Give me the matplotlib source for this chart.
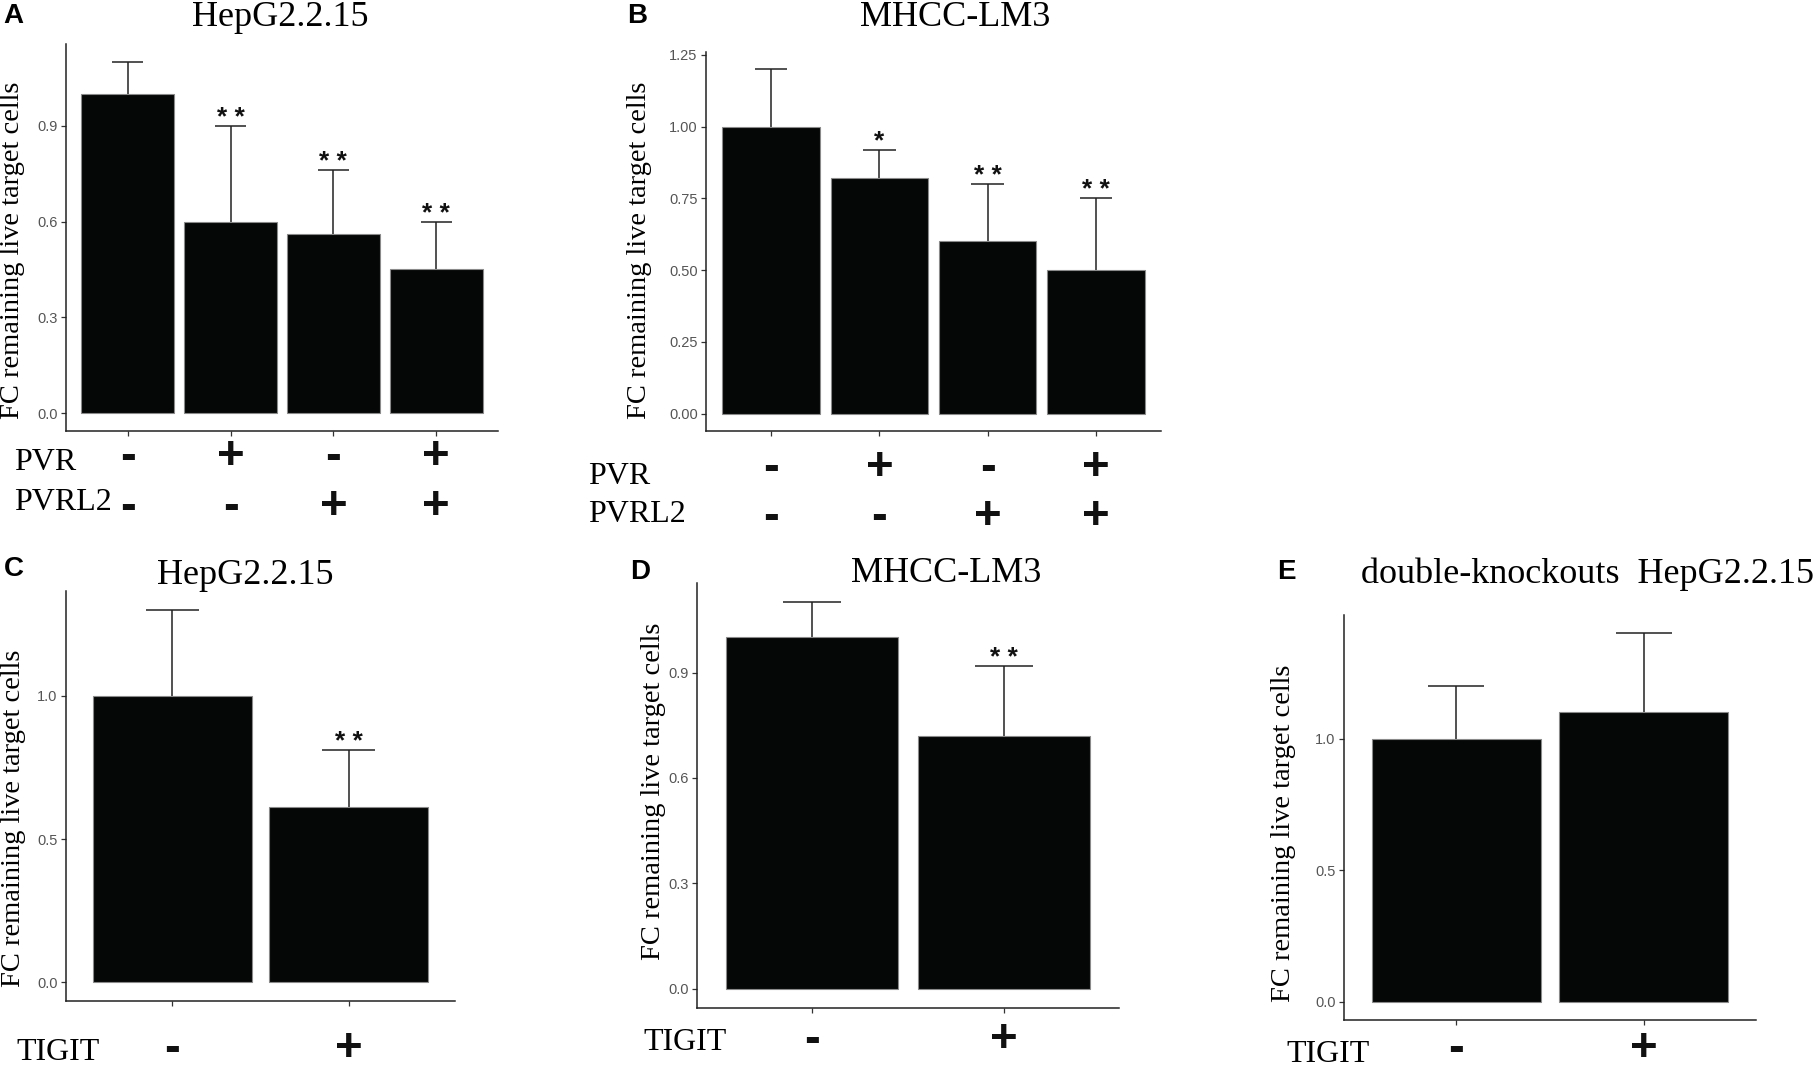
import numpy as np
import matplotlib.pyplot as plt
from matplotlib.ticker import FormatStrFormatter
from matplotlib.transforms import blended_transform_factory

plt.rcParams['font.family'] = ['Liberation Sans', 'DejaVu Sans']

# Panel A: HepG2.2.15, PVR / PVRL2 knockouts
a_vals = [1.00, 0.60, 0.56, 0.45]
a_err = [0.10, 0.30, 0.20, 0.15]
a_sig = ['', '* *', '* *', '* *']
a_yticks = [0.0, 0.3, 0.6, 0.9]

# Panel B: MHCC-LM3, PVR / PVRL2 knockouts
b_vals = [1.00, 0.82, 0.60, 0.50]
b_err = [0.20, 0.10, 0.20, 0.25]
b_sig = ['', '*', '* *', '* *']
b_yticks = [0.00, 0.25, 0.50, 0.75, 1.00, 1.25]

pvr = ['-', '+', '-', '+']
pvrl2 = ['-', '-', '+', '+']

# Panels C-E: TIGIT blocking
c_vals = [1.00, 0.61]
c_err = [0.30, 0.20]
c_sig = ['', '* *']
c_yticks = [0.0, 0.5, 1.0]

d_vals = [1.00, 0.72]
d_err = [0.10, 0.20]
d_sig = ['', '* *']
d_yticks = [0.0, 0.3, 0.6, 0.9]

e_vals = [1.00, 1.10]
e_err = [0.20, 0.30]
e_sig = ['', '']
e_yticks = [0.0, 0.5, 1.0]

tigit = ['-', '+']

ylab = 'FC remaining live target cells'

W, H = 1816, 1072
fig = plt.figure(figsize=(W / 100, H / 100), dpi=100)
fig.patch.set_facecolor('white')

serif = ['Liberation Serif', 'DejaVu Serif']
axcol = '#222222'


def fy(y):
    return 1 - y / H


def panel(box, vals, errs, sigs, yticks, fmt):
    x0, y0, x1, y1 = box
    ax = fig.add_axes([x0 / W, 1 - y1 / H, (x1 - x0) / W, (y1 - y0) / H])
    x = np.arange(1, len(vals) + 1)
    vals = np.array(vals)
    tops = vals + np.array(errs)
    ax.bar(x, vals, width=0.9, color='#050707', edgecolor='#8a8a8a',
           linewidth=0.8, zorder=2)
    ax.vlines(x, vals, tops, color=axcol, lw=1.1, zorder=1)
    ax.hlines(tops, x - 0.15, x + 0.15, color=axcol, lw=1.1, zorder=1)
    for xi, t, s in zip(x, tops, sigs):
        if s:
            ax.annotate(s, (xi, t), xytext=(0, 1), textcoords='offset pixels',
                        ha='center', va='baseline', fontsize=19,
                        fontweight='bold', color='#111111')
    ymax = tops.max()
    ax.set_ylim(-0.05 * ymax, 1.05 * ymax)
    ax.set_xlim(0.4, len(vals) + 0.6)
    ax.set_yticks(yticks)
    ax.yaxis.set_major_formatter(FormatStrFormatter(fmt))
    ax.set_xticks(x)
    ax.set_xticklabels([])
    for side in ['top', 'right']:
        ax.spines[side].set_visible(False)
    for side in ['left', 'bottom']:
        ax.spines[side].set_color(axcol)
        ax.spines[side].set_linewidth(1.1)
    ax.tick_params(axis='both', direction='out', length=3.5, width=0.9,
                   color='#333333', labelsize=10.5, labelcolor='#555555', pad=2.5)
    ax.set_facecolor('white')
    return ax, x


def signs(ax, x, row, y):
    trans = blended_transform_factory(ax.transData, fig.transFigure)
    for xi, s in zip(x, row):
        ax.text(xi, fy(y), s, transform=trans, ha='center', va='center',
                fontsize=34, fontweight='bold', color='#111111', clip_on=False)


def label(x, y, s, **kw):
    fig.text(x / W, fy(y), s, **kw)


# A
ax, x = panel((66, 44, 498, 431), a_vals, a_err, a_sig, a_yticks, '%.1f')
signs(ax, x, pvr, 457)
signs(ax, x, pvrl2, 507)
label(3, 16, 'A', fontsize=20, fontweight='bold', va='center', ha='left')
label(280, 17, 'HepG2.2.15', family=serif, fontsize=26, ha='center', va='center')
label(12.5, 250, ylab, family=serif, fontsize=20.5, rotation=90, ha='center', va='center')
label(14, 463, 'PVR', family=serif, fontsize=23, ha='left', va='center')
label(14, 503, 'PVRL2', family=serif, fontsize=23, ha='left', va='center')

# B
ax, x = panel((706, 52, 1161, 431), b_vals, b_err, b_sig, b_yticks, '%.2f')
signs(ax, x, pvr, 468)
signs(ax, x, pvrl2, 517)
label(627, 16, 'B', fontsize=20, fontweight='bold', va='center', ha='left')
label(955, 17, 'MHCC-LM3', family=serif, fontsize=26, ha='center', va='center')
label(639, 250, ylab, family=serif, fontsize=20.5, rotation=90, ha='center', va='center')
label(588, 476, 'PVR', family=serif, fontsize=23, ha='left', va='center')
label(588, 515, 'PVRL2', family=serif, fontsize=23, ha='left', va='center')

# C
ax, x = panel((66, 591, 455, 1001), c_vals, c_err, c_sig, c_yticks, '%.1f')
signs(ax, x, tigit, 1049)
label(4, 569, 'C', fontsize=20, fontweight='bold', va='center', ha='left')
label(245, 576, 'HepG2.2.15', family=serif, fontsize=26, ha='center', va='center')
label(14, 818, ylab, family=serif, fontsize=20.5, rotation=90, ha='center', va='center')
label(16, 1052, 'TIGIT', family=serif, fontsize=23, ha='left', va='center')

# D
ax, x = panel((697, 583, 1119, 1008), d_vals, d_err, d_sig, d_yticks, '%.1f')
signs(ax, x, tigit, 1040)
label(630, 572, 'D', fontsize=20, fontweight='bold', va='center', ha='left')
label(946, 574, 'MHCC-LM3', family=serif, fontsize=26, ha='center', va='center')
label(653, 791, ylab, family=serif, fontsize=20.5, rotation=90, ha='center', va='center')
label(643, 1042, 'TIGIT', family=serif, fontsize=23, ha='left', va='center')

# E
ax, x = panel((1344, 615, 1756, 1020), e_vals, e_err, e_sig, e_yticks, '%.1f')
signs(ax, x, tigit, 1049)
label(1277, 572, 'E', fontsize=20, fontweight='bold', va='center', ha='left')
label(1361, 574, 'double-knockouts  HepG2.2.15', family=serif, fontsize=26,
      ha='left', va='center')
label(1284, 833, ylab, family=serif, fontsize=20.5, rotation=90, ha='center', va='center')
label(1286, 1055, 'TIGIT', family=serif, fontsize=23, ha='left', va='center')

fig.savefig('out.png', dpi=100, facecolor='white')
